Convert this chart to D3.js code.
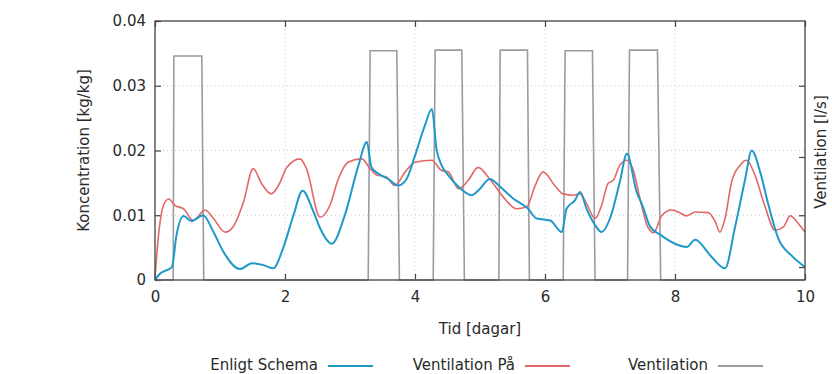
<!DOCTYPE html>
<html>
<head>
<meta charset="utf-8">
<script src="https://cdn.jsdelivr.net/npm/d3@7"></script>
<style>
  body { margin: 0; background: #fff; }
  text { font-family: "DejaVu Sans", Verdana, sans-serif; fill: #2a2a2a; }
</style>
</head>
<body>
<div id="chart"></div>
<script>
// Enligt Schema (blue) [dag, kg/kg]
const schema = [
  [0, 0], [0.08, 0.001], [0.26, 0.002], [0.33, 0.0069], [0.44, 0.0099], [0.56, 0.0091],
  [0.74, 0.0100], [0.90, 0.0074], [1.05, 0.0044], [1.31, 0.0017], [1.49, 0.0026],
  [1.67, 0.0023], [1.82, 0.0018], [1.97, 0.0049], [2.13, 0.0100], [2.27, 0.0138],
  [2.44, 0.0105], [2.54, 0.0080], [2.72, 0.0056], [2.92, 0.0100], [3.13, 0.0177],
  [3.26, 0.0213], [3.33, 0.0174], [3.44, 0.0164], [3.59, 0.0156], [3.74, 0.0146],
  [3.87, 0.0156], [4.0, 0.0192], [4.15, 0.0238], [4.26, 0.0264], [4.33, 0.0203],
  [4.41, 0.0177], [4.51, 0.0162], [4.67, 0.0144], [4.87, 0.0131], [5.0, 0.0141],
  [5.15, 0.0156], [5.31, 0.0144], [5.51, 0.0126], [5.74, 0.0110], [5.87, 0.0095],
  [6.08, 0.0092], [6.26, 0.0074], [6.33, 0.0110], [6.46, 0.0123], [6.54, 0.0136],
  [6.64, 0.0110], [6.77, 0.0085], [6.87, 0.0074], [7.0, 0.0095], [7.15, 0.0151],
  [7.26, 0.0195], [7.41, 0.0136], [7.50, 0.0115], [7.62, 0.0082], [7.77, 0.0070],
  [8.0, 0.0056], [8.18, 0.0051], [8.31, 0.0062], [8.56, 0.0036], [8.77, 0.0018],
  [8.92, 0.0080], [9.08, 0.0156], [9.18, 0.0200], [9.31, 0.0167], [9.44, 0.0115],
  [9.59, 0.0064], [9.79, 0.0038], [10, 0.0020]
];

// Ventilation På (red) [dag, kg/kg]
const ventPa = [
  [0, 0.0003], [0.05, 0.0065], [0.13, 0.0115], [0.21, 0.0125], [0.31, 0.0115],
  [0.44, 0.0110], [0.59, 0.0092], [0.77, 0.0108], [0.90, 0.0095], [1.08, 0.0074],
  [1.20, 0.0082], [1.36, 0.0120], [1.51, 0.0172], [1.64, 0.0149], [1.79, 0.0133],
  [1.90, 0.0146], [2.03, 0.0174], [2.23, 0.0187], [2.33, 0.0172], [2.54, 0.0097],
  [2.69, 0.0115], [2.82, 0.0156], [2.97, 0.0182], [3.18, 0.0187], [3.31, 0.0172],
  [3.41, 0.0162], [3.56, 0.0159], [3.69, 0.0146], [3.85, 0.0167], [4.0, 0.0182],
  [4.26, 0.0185], [4.41, 0.0169], [4.51, 0.0167], [4.67, 0.0141], [4.82, 0.0154],
  [4.97, 0.0174], [5.15, 0.0156], [5.36, 0.0128], [5.56, 0.0110], [5.72, 0.0113],
  [5.85, 0.0146], [5.97, 0.0167], [6.15, 0.0146], [6.28, 0.0133], [6.44, 0.0131],
  [6.54, 0.0133], [6.64, 0.0118], [6.77, 0.0095], [6.87, 0.0115], [6.97, 0.0149],
  [7.05, 0.0154], [7.15, 0.0177], [7.26, 0.0185], [7.36, 0.0169], [7.46, 0.0126],
  [7.58, 0.0082], [7.67, 0.0073], [7.80, 0.0100], [7.95, 0.0108], [8.05, 0.0105],
  [8.18, 0.0099], [8.31, 0.0105], [8.51, 0.0104], [8.62, 0.0090], [8.69, 0.0074],
  [8.77, 0.0095], [8.87, 0.0151], [9.0, 0.0177], [9.1, 0.0185], [9.23, 0.0162],
  [9.38, 0.0115], [9.54, 0.0077], [9.67, 0.0082], [9.77, 0.0099], [9.9, 0.0087],
  [10, 0.0074]
];

// Ventilation (grey) [dag, l/s]
const ventilation = [
  [0, 0], [0.28, 0], [0.29, 34.6], [0.72, 34.6], [0.75, 0],
  [3.28, 0], [3.31, 35.4], [3.72, 35.4], [3.76, 0],
  [4.28, 0], [4.31, 35.5], [4.72, 35.5], [4.76, 0],
  [5.29, 0], [5.31, 35.5], [5.73, 35.5], [5.76, 0],
  [6.28, 0], [6.31, 35.4], [6.73, 35.4], [6.77, 0],
  [7.27, 0], [7.30, 35.5], [7.73, 35.5], [7.78, 0],
  [10, 0]
];

const xTicks = [0, 2, 4, 6, 8, 10];
const yTicks = [0, 0.01, 0.02, 0.03, 0.04];
const y2Ticks = [2, 10, 19, 30];

const legendItems = [
  {label: "Enligt Schema", color: "#1f9ac8"},
  {label: "Ventilation På", color: "#e26868"},
  {label: "Ventilation", color: "#9b9ba3"}
];

const W = 832, H = 374;
const margin = {top: 21, right: 27, bottom: 94, left: 155};
const width = W - margin.left - margin.right;
const height = H - margin.top - margin.bottom;
const fontSize = "15px";

const svg = d3.select("#chart").append("svg")
  .attr("width", W)
  .attr("height", H);

const g = svg.append("g")
  .attr("transform", `translate(${margin.left},${margin.top})`);

const x = d3.scaleLinear().domain([0, 10]).range([0, width]);
const y = d3.scaleLinear().domain([0, 0.04]).range([height, 0]);
const y2 = d3.scaleLinear().domain([0, 40]).range([height, 0]);

// grid
g.append("g").selectAll("line")
  .data(yTicks.slice(1, -1))
  .join("line")
    .attr("x1", 0).attr("x2", width)
    .attr("y1", d => y(d)).attr("y2", d => y(d))
    .attr("stroke", "#cfcfcf").attr("stroke-width", 1)
    .attr("stroke-dasharray", "1,3");

g.append("g").selectAll("line")
  .data(xTicks.slice(1, -1))
  .join("line")
    .attr("x1", d => x(d)).attr("x2", d => x(d))
    .attr("y1", 0).attr("y2", height)
    .attr("stroke", "#cfcfcf").attr("stroke-width", 1)
    .attr("stroke-dasharray", "1,3");

// axes, ticks pointing inward
const xAxis = g.append("g")
  .attr("transform", `translate(0,${height})`)
  .call(d3.axisBottom(x).tickValues(xTicks).tickSize(-6).tickPadding(11).tickFormat(d3.format("d")));
const xTop = g.append("g")
  .call(d3.axisTop(x).tickValues(xTicks).tickSize(-6).tickFormat(""));
const yAxis = g.append("g")
  .call(d3.axisLeft(y).tickValues(yTicks).tickSize(-6).tickPadding(9)
    .tickFormat(d => d === 0 ? "0" : d3.format(".2f")(d)));
const yRight = g.append("g")
  .attr("transform", `translate(${width},0)`)
  .call(d3.axisRight(y2).tickValues(y2Ticks).tickSize(-6).tickFormat(""));

[xAxis, xTop, yAxis, yRight].forEach(a => {
  a.select(".domain").remove();
  a.selectAll(".tick line").attr("stroke", "#444").attr("stroke-width", 1.2);
  a.selectAll(".tick text").style("font-size", fontSize).attr("fill", "#2a2a2a");
});

// series
const line = d3.line()
  .x(d => x(d[0]))
  .y(d => y(d[1]))
  .curve(d3.curveMonotoneX);

const ventLine = d3.line()
  .x(d => x(d[0]))
  .y(d => y2(d[1]));

g.append("path")
  .datum(ventilation)
  .attr("d", ventLine)
  .attr("fill", "none")
  .attr("stroke", legendItems[2].color)
  .attr("stroke-width", 1.6);

g.append("path")
  .datum(ventPa)
  .attr("d", line)
  .attr("fill", "none")
  .attr("stroke", legendItems[1].color)
  .attr("stroke-width", 1.6);

g.append("path")
  .datum(schema)
  .attr("d", line)
  .attr("fill", "none")
  .attr("stroke", legendItems[0].color)
  .attr("stroke-width", 2);

// frame
g.append("rect")
  .attr("width", width)
  .attr("height", height)
  .attr("fill", "none")
  .attr("stroke", "#444")
  .attr("stroke-width", 1.3);

// titles
svg.append("text")
  .attr("x", margin.left + width / 2)
  .attr("y", 334)
  .attr("text-anchor", "middle")
  .style("font-size", fontSize)
  .text("Tid [dagar]");

svg.append("text")
  .attr("transform", `translate(89,${margin.top + height / 2}) rotate(-90)`)
  .attr("text-anchor", "middle")
  .style("font-size", fontSize)
  .text("Koncentration [kg/kg]");

svg.append("text")
  .attr("transform", `translate(826,152) rotate(-90)`)
  .attr("text-anchor", "middle")
  .style("font-size", fontSize)
  .text("Ventilation [l/s]");

// legend
const legendX = [318, 515, 708];
const legend = svg.append("g").attr("transform", "translate(0,365)");
legend.selectAll("g")
  .data(legendItems)
  .join("g")
    .attr("transform", (d, i) => `translate(${legendX[i]},0)`)
    .each(function(d) {
      const s = d3.select(this);
      s.append("text")
        .attr("x", 0)
        .attr("dy", "0.35em")
        .attr("text-anchor", "end")
        .style("font-size", fontSize)
        .text(d.label);
      s.append("line")
        .attr("x1", 10).attr("x2", 55)
        .attr("y1", 1).attr("y2", 1)
        .attr("stroke", d.color)
        .attr("stroke-width", 2);
    });
</script>
</body>
</html>
